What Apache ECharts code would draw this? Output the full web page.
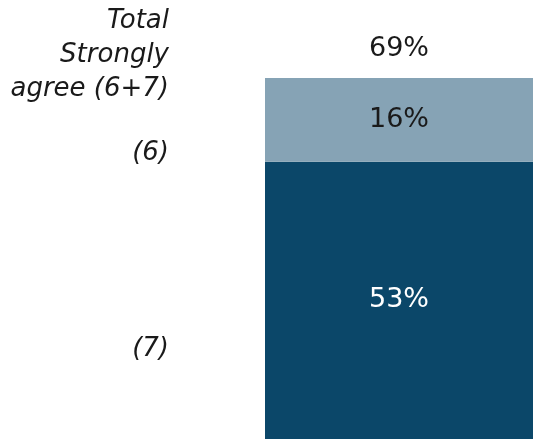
<!DOCTYPE html>
<html>
<head>
<meta charset="utf-8">
<script src="https://cdn.jsdelivr.net/npm/echarts@6/dist/echarts.min.js"></script>
<style>
  html, body { margin: 0; padding: 0; background: #ffffff; }
  #chart { width: 533px; height: 439px; }
</style>
</head>
<body>
<div id="chart"></div>
<script>
// Share of respondents who strongly agree, split by scale point
const categories = ['Total'];
const rating6 = [16];
const rating7 = [53];
const headerLines = ['Total', 'Strongly', 'agree (6+7)'];
const rowLabels = ['(6)', '(7)'];

const FONT = '"DejaVu Sans", "Noto Sans", sans-serif';
const VALUE_SIZE = 27;
const SIDE_SIZE = 26;

const totals = categories.map((_, i) => rating7[i] + rating6[i]);

function sideText(text, y) {
  return {
    type: 'text',
    x: 169,
    y: y,
    style: {
      text: text,
      align: 'right',
      verticalAlign: 'middle',
      fontFamily: FONT,
      fontStyle: 'italic',
      fontSize: SIDE_SIZE,
      fill: '#1a1a1a'
    }
  };
}

const chart = echarts.init(document.getElementById('chart'), null, { renderer: 'canvas' });

chart.setOption({
  animation: false,
  backgroundColor: '#ffffff',
  grid: { left: 265, right: 0, top: 78, bottom: 0 },
  xAxis: {
    type: 'category',
    data: categories,
    show: false
  },
  yAxis: {
    type: 'value',
    min: 0,
    max: totals[0],
    show: false
  },
  series: [
    {
      name: '(7)',
      type: 'bar',
      stack: 'agree',
      barWidth: '100%',
      data: rating7,
      itemStyle: { color: '#0b4769' },
      label: {
        show: true,
        position: 'inside',
        formatter: p => p.value + '%',
        color: '#ffffff',
        fontFamily: FONT,
        fontSize: VALUE_SIZE
      }
    },
    {
      name: '(6)',
      type: 'bar',
      stack: 'agree',
      barWidth: '100%',
      data: rating6,
      itemStyle: { color: '#86a3b5' },
      label: {
        show: true,
        position: 'inside',
        formatter: p => p.value + '%',
        color: '#1a1a1a',
        fontFamily: FONT,
        fontSize: VALUE_SIZE
      }
    },
    {
      // zero-height cap carrying the total label above the stack
      name: 'Total',
      type: 'bar',
      stack: 'agree',
      barWidth: '100%',
      data: categories.map(() => 0),
      itemStyle: { color: 'transparent' },
      label: {
        show: true,
        position: 'top',
        distance: 16,
        formatter: p => totals[p.dataIndex] + '%',
        color: '#1a1a1a',
        fontFamily: FONT,
        fontSize: VALUE_SIZE
      }
    }
  ],
  graphic: [
    sideText(headerLines[0], 21),
    sideText(headerLines[1], 55),
    sideText(headerLines[2], 89),
    sideText(rowLabels[0], 153),
    sideText(rowLabels[1], 349)
  ]
});
</script>
</body>
</html>
